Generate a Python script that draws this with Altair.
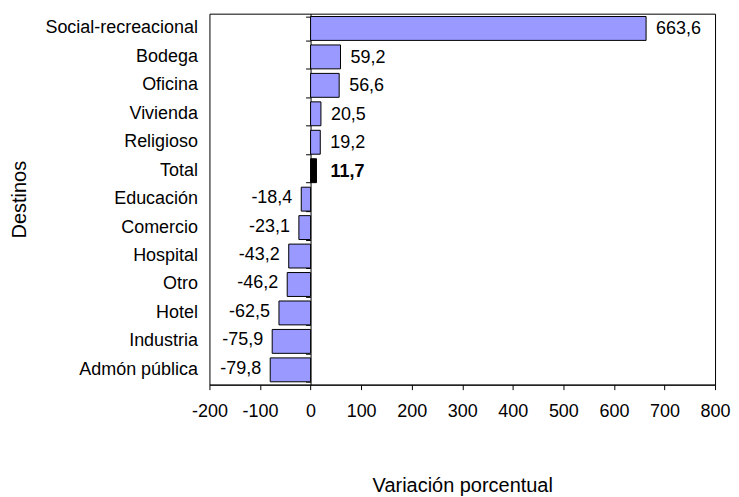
import altair as alt
import pandas as pd

categories = ["Social-recreacional", "Bodega", "Oficina", "Vivienda", "Religioso", "Total",
              "Educación", "Comercio", "Hospital", "Otro ", "Hotel", "Industria", "Admón pública"]
values = [663.6, 59.2, 56.6, 20.5, 19.2, 11.7, -18.4, -23.1, -43.2, -46.2, -62.5, -75.9, -79.8]
x_ticks = [-200, -100, 0, 100, 200, 300, 400, 500, 600, 700, 800]

df = pd.DataFrame({
    "cat": categories,
    "val": values,
    "label": [f"{v:.1f}".replace(".", ",") for v in values],
})

FONT = "Liberation Sans"
W, H = 507, 372
ZERO_OFFSET = W * 200 / 1000

yscale = alt.Scale(paddingInner=0.16, paddingOuter=0.1)
xscale = alt.Scale(domain=[-200, 800], nice=False, zero=False)

x_enc = alt.X("val:Q", scale=xscale, axis=alt.Axis(
    values=x_ticks, title="Variación porcentual", grid=False,
    labelExpr="datum.value < 0 ? '-' + abs(datum.value) : '' + datum.value",
    domainColor="black", tickColor="black", tickSize=5, labelColor="black",
    labelFont=FONT, labelFontSize=18, labelPadding=13,
    titleFont=FONT, titleFontSize=20, titleFontWeight="normal", titleColor="black",
    titlePadding=55, labelFlush=False))

y_main = alt.Y("cat:N", sort=categories, scale=yscale, axis=alt.Axis(
    title="Destinos", ticks=False, domain=False, labelPadding=12,
    labelFont=FONT, labelFontSize=18, labelColor="black",
    titleFont=FONT, titleFontSize=20, titleFontWeight="normal", titleColor="black",
    titlePadding=15))

y_zero = alt.Y("cat:N", sort=categories, scale=yscale, axis=alt.Axis(
    title=None, labels=False, ticks=True, tickBand="extent", tickSize=5,
    tickColor="black", domain=True, domainColor="black", offset=-ZERO_OFFSET,
    orient="left", grid=False))

y_none = alt.Y("cat:N", sort=categories, scale=yscale, axis=None)

base = alt.Chart(df)

bars = base.mark_bar(stroke="black", strokeWidth=1).encode(
    x=x_enc,
    y=y_main,
    fill=alt.condition(alt.datum.cat == "Total", alt.value("black"), alt.value("#9999FF")),
)

zero_axis = base.mark_bar(opacity=0).encode(x=x_enc, y=y_zero)

pos_labels = base.mark_text(align="left", baseline="middle", dx=10, dy=1, font=FONT, fontSize=18,
                            color="black").encode(
    x=x_enc, y=y_none, text="label:N").transform_filter("datum.val > 0 && datum.cat != 'Total'")

neg_labels = base.mark_text(align="right", baseline="middle", dx=-9, dy=-1, font=FONT, fontSize=18,
                            color="black").encode(
    x=x_enc, y=y_none, text="label:N").transform_filter("datum.val < 0")

tot_label = base.mark_text(align="left", baseline="middle", dx=14, dy=1, font=FONT, fontSize=18,
                           fontWeight="bold", color="black").encode(
    x=x_enc, y=y_none, text="label:N").transform_filter("datum.cat == 'Total'")

chart = alt.layer(bars, zero_axis, pos_labels, neg_labels, tot_label).resolve_axis(
    y="independent"
).properties(
    width=W, height=H,
    padding={"left": 1, "top": 5, "right": 0, "bottom": 0},
    background="white",
).configure_view(stroke="black", strokeWidth=1)

chart.save("out.html", embed_options={"renderer": "svg", "actions": False})
